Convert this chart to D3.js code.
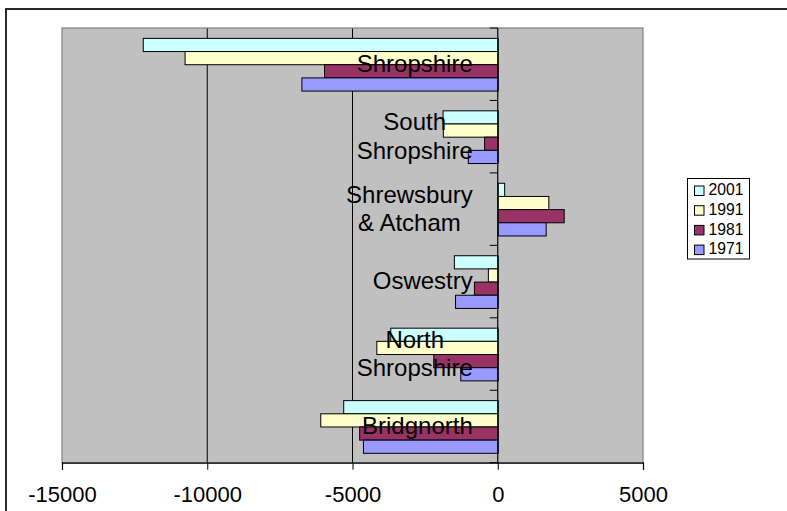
<!DOCTYPE html>
<html>
<head>
<meta charset="utf-8">
<script src="https://cdn.jsdelivr.net/npm/d3@7"></script>
<style>
  html, body { margin: 0; padding: 0; background: #fff; }
  svg { display: block; font-family: "Liberation Sans", Arial, sans-serif; }
</style>
</head>
<body>
<svg id="chart" width="787" height="511"></svg>
<script>
// Districts, listed top to bottom as they appear on the category axis
const categories = ["Shropshire", "South Shropshire", "Shrewsbury & Atcham", "Oswestry", "North Shropshire", "Bridgnorth"];
// Census years (series), in legend order
const years = ["2001", "1991", "1981", "1971"];
// Values per series, aligned with categories
const values2001 = [-12220, -1900, 220, -1510, -3700, -5320];
const values1991 = [-10780, -1890, 1740, -340, -4180, -6110];
const values1981 = [-5980, -470, 2270, -820, -2220, -4770];
const values1971 = [-6760, -1030, 1650, -1470, -1290, -4640];
const seriesValues = [values2001, values1991, values1981, values1971];
const seriesColors = ["#CCFFFF", "#FFFFCC", "#993366", "#9999FF"];
const xTicks = [-15000, -10000, -5000, 0, 5000];

const svg = d3.select("#chart");

// Outer chart frame (extends past the right and bottom edges)
svg.append("rect")
  .attr("x", 6).attr("y", 9)
  .attr("width", 900).attr("height", 600)
  .attr("fill", "none").attr("stroke", "#2a2a2a").attr("stroke-width", 2);

const plot = { left: 62, right: 643, top: 28, bottom: 462.7 };

const x = d3.scaleLinear().domain([-15000, 5000]).range([plot.left, plot.right]);
const y = d3.scaleBand().domain(categories).range([plot.top, plot.bottom]).padding(0);
const ySeries = d3.scaleBand().domain(years).range([0, y.bandwidth()])
  .paddingInner(0).paddingOuter(0.75);

// Plot area background
svg.append("rect")
  .attr("x", plot.left).attr("y", plot.top)
  .attr("width", plot.right - plot.left).attr("height", plot.bottom - plot.top)
  .attr("fill", "#C0C0C0");

// Vertical gridlines
svg.append("g").selectAll("line")
  .data(xTicks.filter(t => t !== 0 && t !== -15000 && t !== 5000))
  .join("line")
  .attr("x1", d => x(d)).attr("x2", d => x(d))
  .attr("y1", plot.top).attr("y2", plot.bottom)
  .attr("stroke", "#000").attr("stroke-width", 1);

// Plot area border
svg.append("rect")
  .attr("x", plot.left).attr("y", plot.top)
  .attr("width", plot.right - plot.left).attr("height", plot.bottom - plot.top)
  .attr("fill", "none").attr("stroke", "#808080").attr("stroke-width", 1.2);

// Bars
const rows = [];
categories.forEach((c, i) => {
  years.forEach((yr, s) => rows.push({ cat: c, year: yr, value: seriesValues[s][i], color: seriesColors[s] }));
});
svg.append("g").selectAll("rect")
  .data(rows)
  .join("rect")
  .attr("x", d => x(Math.min(0, d.value)) + 0.5)
  .attr("y", d => y(d.cat) + ySeries(d.year) + 0.5)
  .attr("width", d => Math.abs(x(d.value) - x(0)))
  .attr("height", ySeries.bandwidth())
  .attr("fill", d => d.color)
  .attr("stroke", "#000").attr("stroke-width", 1);

// Category axis at zero, with tick marks between categories
const x0 = x(0);
svg.append("line")
  .attr("x1", x0).attr("x2", x0)
  .attr("y1", plot.top).attr("y2", plot.bottom)
  .attr("stroke", "#000").attr("stroke-width", 1.2);
const bounds = categories.map(c => y(c)).concat([plot.bottom]);
svg.append("g").selectAll("line")
  .data(bounds)
  .join("line")
  .attr("x1", x0 - 8).attr("x2", x0)
  .attr("y1", d => d).attr("y2", d => d)
  .attr("stroke", "#000").attr("stroke-width", 1);

// Value axis along the bottom (plain hyphen for negatives)
const xAxis = svg.append("g")
  .attr("transform", `translate(0,${plot.bottom})`)
  .call(d3.axisBottom(x).tickValues(xTicks).tickFormat(d => String(d)).tickSize(7).tickPadding(17));
xAxis.select(".domain").attr("stroke", "#000").attr("stroke-width", 1.2);
xAxis.selectAll(".tick line").attr("stroke", "#000");
xAxis.selectAll(".tick text")
  .attr("font-family", "'Liberation Sans', Arial, sans-serif")
  .attr("font-size", 22).attr("fill", "#000");

// Category labels: wrapped, centered on each other, right edge 25px left of the axis
const labelSize = 24, lineHeight = 28.8, maxLine = 135;
const labels = svg.append("g")
  .attr("font-size", labelSize).attr("fill", "#000");
categories.forEach(c => {
  const t = labels.append("text").attr("text-anchor", "middle");
  // word wrap
  const words = c.split(" ");
  const lines = [];
  let cur = "";
  const probe = labels.append("text");
  words.forEach(w => {
    const test = cur ? cur + " " + w : w;
    probe.text(test);
    if (cur && probe.node().getComputedTextLength() > maxLine) { lines.push(cur); cur = w; }
    else cur = test;
  });
  lines.push(cur);
  const widths = lines.map(l => { probe.text(l); return probe.node().getComputedTextLength(); });
  probe.remove();
  const maxW = d3.max(widths);
  const cx = x0 - 25 - maxW / 2;
  const center = y(c) + y.bandwidth() / 2;
  const firstBase = center - (lines.length - 1) * lineHeight / 2 + labelSize * 0.716 / 2 - 0.7;
  lines.forEach((l, k) => {
    t.append("tspan").attr("x", cx).attr("y", firstBase + k * lineHeight).text(l);
  });
});

// Legend
const lg = svg.append("g");
lg.append("rect")
  .attr("x", 687.5).attr("y", 178.5).attr("width", 62).attr("height", 80.5)
  .attr("fill", "#fff").attr("stroke", "#000").attr("stroke-width", 1);
const item = lg.selectAll("g.item")
  .data(years.map((yr, s) => ({ yr, color: seriesColors[s] })))
  .join("g").attr("class", "item")
  .attr("transform", (d, i) => `translate(694.5,${186 + i * 19.7})`);
item.append("rect")
  .attr("width", 9.5).attr("height", 9.5)
  .attr("fill", d => d.color).attr("stroke", "#000").attr("stroke-width", 1);
item.append("text")
  .attr("x", 14).attr("y", 9.3)
  .attr("font-size", 15.7).attr("fill", "#000")
  .text(d => d.yr);
</script>
</body>
</html>
